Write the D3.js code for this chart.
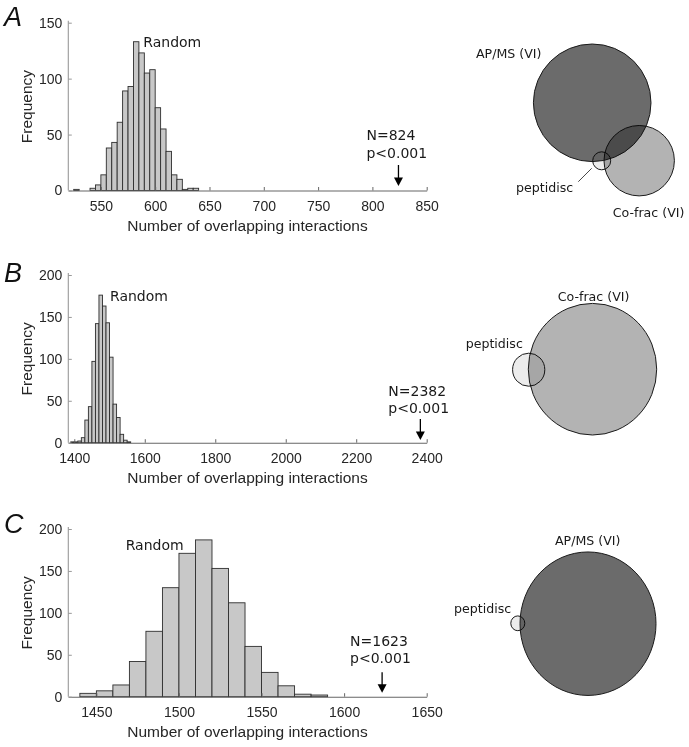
<!DOCTYPE html>
<html><head><meta charset="utf-8">
<script src="https://cdn.jsdelivr.net/npm/d3@7/dist/d3.min.js"></script>
<style>body{margin:0;background:#fff}</style>
</head><body>
<svg id="chart" width="689" height="747"></svg>
<script>
// ---------- DATA ----------
// Panel A histogram (bin lower edges, width 5)
const binsA   = [525,530,535,540,545,550,555,560,565,570,575,580,585,590,595,600,605,610,615,620,625,630,635];
const countsA = [1,0,0,2,5,14,38,43,61,89,93,133,123,105,108,74,55,35,14,10,1,2,2];
const binWidthA = 5;
const xTicksA = [550,600,650,700,750,800,850];
const yTicksA = [0,50,100,150];
const observedA = 824;

// Panel B histogram (bin lower edges, width 10)
const binsB   = [1390,1400,1410,1420,1430,1440,1450,1460,1470,1480,1490,1500,1510,1520,1530,1540,1550];
const countsB = [1,1,2,6,27,43,97,142,176,163,143,102,46,30,10,3,1];
const binWidthB = 10;
const xTicksB = [1400,1600,1800,2000,2200,2400];
const yTicksB = [0,50,100,150,200];
const observedB = 2382;

// Panel C histogram (bin lower edges, width 10)
const binsC   = [1440,1450,1460,1470,1480,1490,1500,1510,1520,1530,1540,1550,1560,1570,1580];
const countsC = [4,7,14,42,78,130,171,187,153,112,60,29,13,3,2];
const binWidthC = 10;
const xTicksC = [1450,1500,1550,1600,1650];
const yTicksC = [0,50,100,150,200];
const observedC = 1623;

const pText = "p<0.001";

// Venn sets (relative areas)
const vennNamesA = ["AP/MS (VI)","Co-frac (VI)","peptidisc"];
const vennAreasA = [3457,1239,81];
const vennNamesB = ["Co-frac (VI)","peptidisc"];
const vennAreasB = [4225,266];
const vennNamesC = ["AP/MS (VI)","peptidisc"];
const vennAreasC = [4900,52];

// ---------- LAYOUT / STYLE ----------
const svg = d3.select("#chart");
const AXF = "'Liberation Sans', Arial, Helvetica, sans-serif";
const TXF = "'DejaVu Sans', sans-serif";
const fillColor = {"AP/MS (VI)":"#6b6b6b","Co-frac (VI)":"#b3b3b3","peptidisc":"#ececec"};

const panels = [
  {letter:"A", letterY:26, bins:binsA, counts:countsA, bw:binWidthA, xd:[520,850], yd:[0,150], top:22.7, bottom:190.5,
   xt:xTicksA, yt:yTicksA, obs:observedA, nY:-50.5, pY:-32.5, a1:-25.5, a2:-4.5, rx:143.3, ry:47},
  {letter:"B", letterY:281.5, bins:binsB, counts:countsB, bw:binWidthB, xd:[1383,2400], yd:[0,200], top:275, bottom:442.7,
   xt:xTicksB, yt:yTicksB, obs:observedB, nY:-46.5, pY:-29.5, a1:-23.7, a2:-2.7, rx:110, ry:301},
  {letter:"C", letterY:533, bins:binsC, counts:countsC, bw:binWidthC, xd:[1433,1650], yd:[0,200], top:529, bottom:696.7,
   xt:xTicksC, yt:yTicksC, obs:observedC, nY:-51, pY:-33.5, a1:-24.4, a2:-4, rx:125.7, ry:550}
];
const L = 68.3, R = 426.7;

panels.forEach(p => {
  const g = svg.append("g");
  const x = d3.scaleLinear().domain(p.xd).range([L,R]);
  const y = d3.scaleLinear().domain(p.yd).range([p.bottom,p.top]);

  // bars
  g.selectAll("rect.bar").data(p.bins.map((b,i)=>({x0:b,x1:b+p.bw,c:p.counts[i]})).filter(d=>d.c>0))
    .enter().append("rect").attr("class","bar")
    .attr("x",d=>x(d.x0)).attr("width",d=>x(d.x1)-x(d.x0))
    .attr("y",d=>y(d.c)).attr("height",d=>y(0)-y(d.c))
    .attr("fill","#c8c8c8").attr("stroke","#2e2e2e").attr("stroke-width",0.9);

  // x axis
  const xa = g.append("g").attr("transform",`translate(0,${p.bottom})`)
    .call(d3.axisBottom(x).tickValues(p.xt).tickFormat(d3.format("d")).tickSizeInner(-3.5).tickSizeOuter(0).tickPadding(10.5));
  xa.select(".domain").attr("stroke","#666").attr("stroke-width",1.1);
  xa.selectAll(".tick line").attr("stroke","#666");
  xa.selectAll("text").attr("font-family",AXF).attr("font-size",14).attr("fill","#262626");

  // y axis
  const ya = g.append("g").attr("transform",`translate(${L},0)`)
    .call(d3.axisLeft(y).tickValues(p.yt).tickSizeInner(-3.5).tickSizeOuter(0).tickPadding(6));
  ya.select(".domain").attr("stroke","#999").attr("stroke-width",1.1)
    .attr("d",`M0,${p.bottom}V${p.top-2}`);
  ya.selectAll(".tick line").attr("stroke","#999");
  ya.selectAll("text").attr("font-family",AXF).attr("font-size",14).attr("fill","#262626");

  // axis labels
  g.append("text").attr("x",(L+R)/2).attr("y",p.bottom+40).attr("text-anchor","middle")
    .attr("font-family",AXF).attr("font-size",15.5).attr("fill","#262626")
    .text("Number of overlapping interactions");
  g.append("text").attr("transform",`translate(32,${(p.top+p.bottom)/2}) rotate(-90)`)
    .attr("text-anchor","middle").attr("font-family",AXF).attr("font-size",15.5).attr("fill","#262626")
    .text("Frequency");

  // panel letter
  g.append("text").attr("x",4).attr("y",p.letterY).attr("font-family",AXF).attr("font-style","italic")
    .attr("font-size",27).attr("fill","#111").text(p.letter);

  // Random label
  g.append("text").attr("x",p.rx).attr("y",p.ry).attr("font-family",TXF).attr("font-size",14)
    .attr("fill","#1a1a1a").text("Random");

  // observed annotation
  const ox = x(p.obs);
  g.append("text").attr("x",ox-32).attr("y",p.bottom+p.nY).attr("font-family",TXF).attr("font-size",14)
    .attr("fill","#1a1a1a").text("N="+p.obs);
  g.append("text").attr("x",ox-32).attr("y",p.bottom+p.pY).attr("font-family",TXF).attr("font-size",14)
    .attr("fill","#1a1a1a").text(pText);
  g.append("line").attr("x1",ox).attr("x2",ox).attr("y1",p.bottom+p.a1).attr("y2",p.bottom+p.a2-6)
    .attr("stroke","#000").attr("stroke-width",1.3);
  const tip = p.bottom+p.a2;
  g.append("path").attr("d",`M${ox-4.5},${tip-8.5}L${ox+4.5},${tip-8.5}L${ox},${tip}Z`).attr("fill","#000");
});

// ---------- VENN ----------
const vennLayouts = [
  {names:vennNamesA, areas:vennAreasA, maxR:58.8, aspect:1.0,
   centers:[[592.2,102.8],[639.2,160.7],[601.7,160.8]],
   labels:[[476,58],[612.7,216.5],[516,191.5]], leader:[[578.3,181.7],[591.7,168.3]]},
  {names:vennNamesB, areas:vennAreasB, maxR:64.2, aspect:1.025,
   centers:[[592.5,369.2],[528.7,369.7]],
   labels:[[557.7,300.5],[465.7,348.3]]},
  {names:vennNamesC, areas:vennAreasC, maxR:68, aspect:1.055,
   centers:[[588,623.7],[517.8,623.3]],
   labels:[[555,545],[454,613.3]]}
];

vennLayouts.forEach(v => {
  const r = d3.scaleSqrt().domain([0,d3.max(v.areas)]).range([0,v.maxR]);
  const g = svg.append("g").style("isolation","isolate");
  g.selectAll("ellipse").data(v.names).enter().append("ellipse")
    .attr("cx",(d,i)=>v.centers[i][0]).attr("cy",(d,i)=>v.centers[i][1])
    .attr("rx",(d,i)=>r(v.areas[i])).attr("ry",(d,i)=>r(v.areas[i])*v.aspect)
    .attr("fill",d=>fillColor[d]).attr("stroke","#1a1a1a").attr("stroke-width",1)
    .style("mix-blend-mode","multiply");
  svg.selectAll(null).data(v.names).enter().append("text")
    .attr("x",(d,i)=>v.labels[i][0]).attr("y",(d,i)=>v.labels[i][1])
    .attr("font-family",TXF).attr("font-size",12.6).attr("fill","#1a1a1a").text(d=>d);
  if (v.leader) {
    svg.append("line").attr("x1",v.leader[0][0]).attr("y1",v.leader[0][1])
      .attr("x2",v.leader[1][0]).attr("y2",v.leader[1][1]).attr("stroke","#333").attr("stroke-width",0.9);
  }
});
</script>
</body></html>
